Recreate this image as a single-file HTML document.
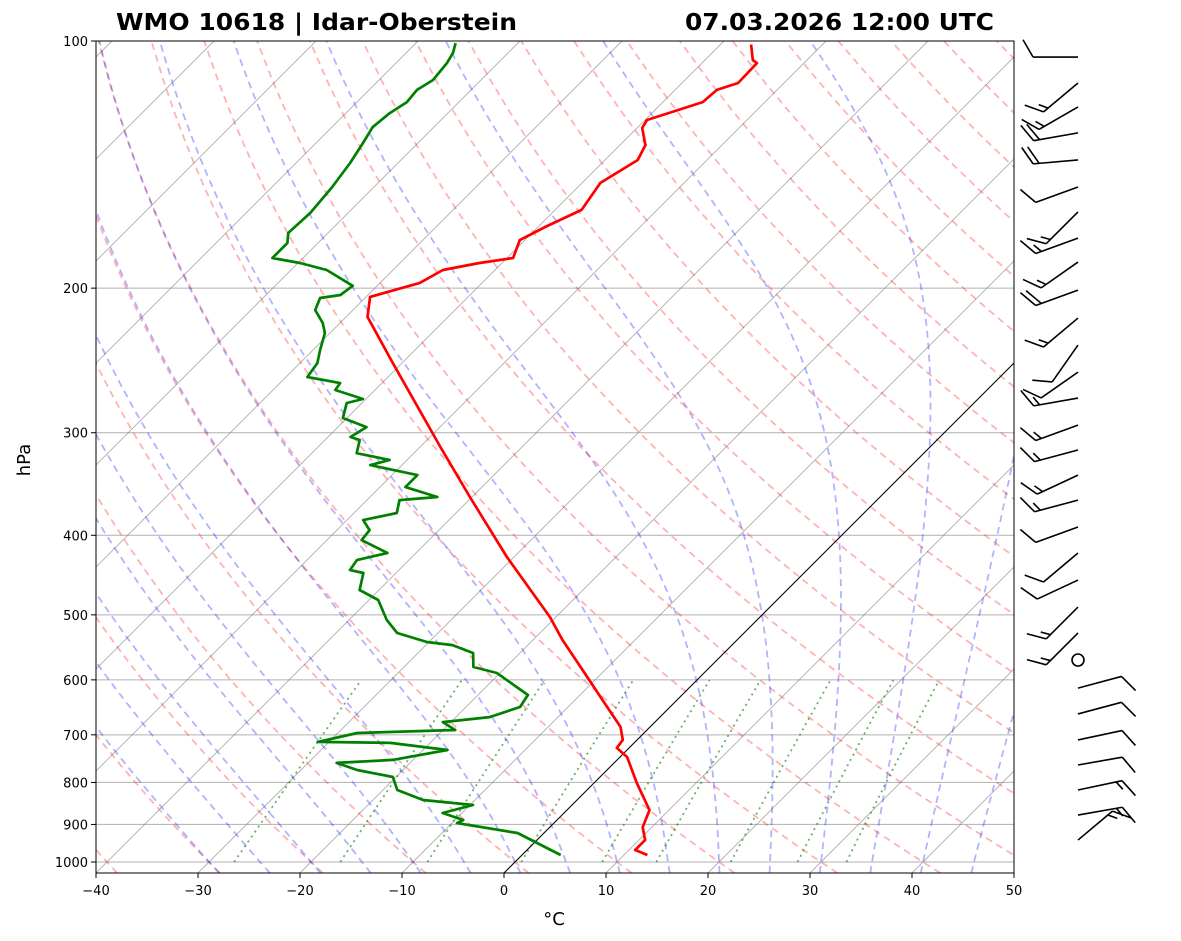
<!DOCTYPE html>
<html><head><meta charset="utf-8"><style>
html,body{margin:0;padding:0;background:#fff;}
svg{display:block;font-family:"DejaVu Sans","Liberation Sans",sans-serif;}
</style></head><body>
<svg id="chart" width="1181" height="941" viewBox="0 0 1181 941" xmlns="http://www.w3.org/2000/svg">
<defs><clipPath id="plotclip"><rect x="96" y="41" width="918" height="832"/></clipPath></defs>
<text x="116" y="30" font-size="23" font-weight="bold" textLength="401" lengthAdjust="spacingAndGlyphs">WMO 10618 | Idar-Oberstein</text>
<text x="685" y="30" font-size="23" font-weight="bold" textLength="309" lengthAdjust="spacingAndGlyphs">07.03.2026 12:00 UTC</text>
<g id="bg" clip-path="url(#plotclip)"></g>
<g id="series" clip-path="url(#plotclip)"></g>
<rect x="96" y="41" width="918" height="832" fill="none" stroke="#000" stroke-width="1"/>
<g id="axes"></g>
<g id="barbs"></g>
<text x="30" y="460" font-size="18" text-anchor="middle" transform="rotate(-90 30 460)">hPa</text>
<text x="554" y="925" font-size="18" text-anchor="middle">°C</text>
</svg>
<script>
// ---- data ----
const tempP = [101,105.5,106.4,112.5,114.7,118.7,124.8,127.6,133.9,139.6,148.9,160.6,168.5,174.8,183.8,186.4,190.1,197.1,205.0,216.8,246.7,312.3,359.3,425.1,503.0,536.6,583.6,634.9,684.7,710.1,726.2,745.0,801.3,864.5,906.7,940.3,967.0,980.6];
const tempT = [-57.0,-55.3,-54.6,-54.5,-55.9,-56.1,-59.8,-59.5,-57.5,-56.8,-58.2,-57.4,-59.3,-60.5,-59.4,-62.2,-65.1,-66.1,-69.6,-67.9,-60.9,-48.0,-40.2,-30.7,-20.6,-17.1,-12.2,-7.3,-2.9,-1.4,-1.2,0.7,4.2,8.1,9.1,10.6,10.6,12.3];
const dewP = [100.6,103.4,106.4,111.6,114.7,118.7,122.4,127.3,133.1,140.8,150.6,162.0,171.3,176.2,183.8,186.4,190.1,198.7,203.9,205.6,212.7,220.5,226.8,237.9,246.7,256.6,261.0,266.1,272.9,276.0,287.9,295.3,303.6,306.2,317.7,323.9,328.5,337.9,349.4,359.3,362.4,375.8,383.3,394.2,405.4,420.4,428.8,440.9,444.6,466.3,479.6,507.2,526.1,539.6,544.2,556.5,578.7,588.6,612.2,626.1,647.5,666.0,675.4,690.6,696.5,714.1,716.1,730.4,751.1,757.4,772.6,787.9,817.2,840.4,852.3,871.7,888.9,896.6,921.9,975.0,980.6];
const dewT = [-86.1,-85.4,-85.0,-84.7,-85.3,-85.1,-85.7,-86.0,-85.4,-84.7,-84.1,-83.7,-83.9,-83.0,-83.0,-79.8,-76.5,-72.4,-72.7,-74.4,-73.7,-71.7,-70.5,-69.3,-68.3,-67.9,-64.1,-63.9,-60.3,-61.5,-60.4,-57.2,-57.8,-56.6,-55.6,-51.7,-53.1,-47.5,-47.5,-43.4,-46.8,-45.8,-48.4,-46.8,-46.6,-42.8,-45.1,-44.8,-43.2,-41.9,-39.1,-36.3,-34.0,-30.2,-27.4,-24.6,-23.2,-20.3,-17.0,-15.1,-14.7,-16.7,-20.8,-18.8,-28.1,-31.1,-23.9,-17.6,-22.0,-27.2,-24.5,-20.3,-18.6,-15.1,-9.7,-11.9,-9.2,-9.5,-2.6,3.2,3.8];
const windP = [104.6,112.5,120.3,129.4,139.6,150.6,161.5,173.8,185.9,201.1,217.5,234.6,253.1,272.2,293.7,314.9,337.9,362.4,390.8,420.4,453.5,489.2,526.1,567.5,614.0,660.2,710.1,761.8,817.2,876.7,940.3];
const windDir = [270,230,240,260,265,250,225,250,235,250,230,215,235,260,250,255,245,255,250,230,245,225,225,0,75,75,78,80,78,80,50];
const windSpd = [10,15,15,20,20,10,15,15,15,20,15,10,10,15,15,15,15,15,10,10,10,15,15,0,10,10,10,10,15,15,15];
const yTicks = [100,200,300,400,500,600,700,800,900,1000];
const xTicks = [-40,-30,-20,-10,0,10,20,30,40,50];
const mixRatios = [0.0004,0.001,0.002,0.004,0.007,0.01,0.016,0.024,0.032];

// ---- axis functions ----
const NS='http://www.w3.org/2000/svg';
const Y0=41,YSC=821,XL=96,XR=1014,YB=873,X0=504,XS=10.2;
const PBOT=100*Math.pow(10,(YB-Y0)/YSC);
function yOf(p){return Y0+YSC*Math.log10(p/100);}
function xOf(T,p){return X0+XS*T+(YB-yOf(p));}
function mk(tag,attrs,parent){const e=document.createElementNS(NS,tag);for(const k in attrs)e.setAttribute(k,attrs[k]);parent.appendChild(e);return e;}
function pathFrom(ps,ts){let d='';for(let i=0;i<ps.length;i++){d+=(i?'L':'M')+xOf(ts[i],ps[i]).toFixed(1)+','+yOf(ps[i]).toFixed(1);}return d;}
const bg=document.getElementById('bg'),series=document.getElementById('series'),axes=document.getElementById('axes'),barbs=document.getElementById('barbs');

for(const p of yTicks){const y=yOf(p);const l=mk('line',{x1:XL,x2:XR,y1:y,y2:y,stroke:'#b0b0b0','stroke-width':1},bg);

}
for(let T=-130;T<=50;T+=10){const l=mk('line',{x1:xOf(T,PBOT),y1:YB,x2:xOf(T,100),y2:Y0,stroke:'#777','stroke-opacity':0.6,'stroke-width':0.9},bg);

}
for(let th=-60;th<=260;th+=10){const ps=[],ts=[];for(let p=PBOT;p>=99;p-=10){ps.push(p);ts.push((th+273.15)*Math.pow(p/1000,0.2857)-273.15);}ps.push(100);ts.push((th+273.15)*Math.pow(0.1,0.2857)-273.15);
const e=mk('path',{d:pathFrom(ps,ts),fill:'none',stroke:'#ff0000','stroke-opacity':0.3,'stroke-width':1.8,'stroke-dasharray':'7,5'},bg);

}
function esat(Tc){return 6.112*Math.exp(17.67*Tc/(Tc+243.5));}
function dTdp(T,p){const es=esat(T-273.15);const rs=0.622*es/(p-es);return (287*T+2.5e6*rs)/(p*(1004+2.5e6*2.5e6*rs*0.622/(287*T*T)));}
for(let t0=-30;t0<=50;t0+=5){let T=t0+273.15;const ps=[],ts=[];
let Td=T;for(let p=1000;p<PBOT;p+=2){Td+=dTdp(Td,p)*2;}ps.push(PBOT);ts.push(Td-273.15);
for(let p=1000;p>=100;p-=2){ps.push(p);ts.push(T-273.15);T-=dTdp(T,p)*2;}
const e=mk('path',{d:pathFrom(ps,ts),fill:'none',stroke:'#0000ff','stroke-opacity':0.3,'stroke-width':1.8,'stroke-dasharray':'7,5'},bg);

}
for(const w of mixRatios){const ps=[],ts=[];for(let p=1000;p>=600;p-=20){const e=p*w/(0.622+w);const a=Math.log(e/6.112);ps.push(p);ts.push(243.5*a/(17.67-a));}
const e=mk('path',{d:pathFrom(ps,ts),fill:'none',stroke:'#008000','stroke-opacity':0.6,'stroke-width':1.8,'stroke-dasharray':'2,4'},bg);

}
const z=mk('line',{x1:xOf(0,PBOT),y1:YB,x2:xOf(0,100),y2:Y0,stroke:'#000','stroke-width':1},bg);



const tl=mk('path',{d:pathFrom(tempP,tempT),fill:'none',stroke:'#ff0000','stroke-width':2.7,'stroke-linejoin':'round'},series);


const dl=mk('path',{d:pathFrom(dewP,dewT),fill:'none',stroke:'#008000','stroke-width':2.7,'stroke-linejoin':'round'},series);



for(const p of yTicks){const y=yOf(p);mk('line',{x1:XL-5,x2:XL,y1:y,y2:y,stroke:'#000'},axes);
const t=mk('text',{x:XL-8,y:y+5,'font-size':13,'text-anchor':'end'},axes);t.textContent=p;

}
for(const T of xTicks){const x=X0+XS*T;mk('line',{x1:x,x2:x,y1:YB,y2:YB+5,stroke:'#000'},axes);
const t=mk('text',{x:x,y:YB+22,'font-size':13,'text-anchor':'middle'},axes);t.textContent=(T<0?'\u2212'+(-T):T);

}

const BX=1078,L=45;
for(let i=0;i<windP.length;i++){const y=yOf(windP[i]);const g=mk('g',{},barbs);


if(windSpd[i]<2.5){mk('circle',{cx:BX,cy:y,r:6,fill:'none',stroke:'#000','stroke-width':1.6},g);continue;}
const d=windDir[i]*Math.PI/180;const sx=Math.sin(d),sy=-Math.cos(d);
const ex=BX+sx*L,ey=y+sy*L;mk('line',{x1:BX,y1:y,x2:ex,y2:ey,stroke:'#000','stroke-width':1.6},g);
const a=Math.atan2(sy,sx)+Math.PI/3;const bx=Math.cos(a),by=Math.sin(a);
let s=windSpd[i],k=0;
while(s>=10){const px=ex-sx*k*6,py=ey-sy*k*6;mk('line',{x1:px,y1:py,x2:px+bx*20,y2:py+by*20,stroke:'#000','stroke-width':1.6},g);s-=10;k++;}
if(s>=5){if(k===0)k=1;const px=ex-sx*k*6,py=ey-sy*k*6;mk('line',{x1:px,y1:py,x2:px+bx*10,y2:py+by*10,stroke:'#000','stroke-width':1.6},g);}
}
</script>
</body></html>
